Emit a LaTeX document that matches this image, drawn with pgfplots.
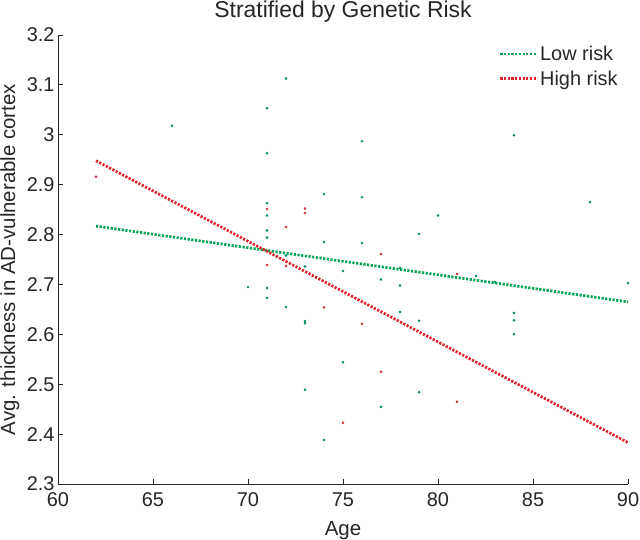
\documentclass[border=0pt]{standalone}
\usepackage{fontspec}
\setmainfont{Liberation Sans}
\usepackage{pgfplots}
\pgfplotsset{compat=1.18}

\definecolor{lowrisk}{RGB}{0,166,81}
\definecolor{highrisk}{RGB}{228,32,40}
\definecolor{lowdot}{RGB}{0,140,100}
\definecolor{highdot}{RGB}{215,40,45}
\definecolor{ink}{RGB}{38,38,38}

\newcommand{\tickfont}{\fontsize{20}{22}\selectfont}
\newcommand{\labelfont}{\fontsize{20.5}{23}\selectfont}
\newcommand{\titlefont}{\fontsize{23}{26}\selectfont}

\begin{document}
\begin{tikzpicture}
\begin{axis}[
  scale only axis, width=570bp, height=449bp,
  xmin=60, xmax=90, ymin=2.3, ymax=3.2,
  axis x line*=bottom, axis y line*=left,
  axis line style={-, ink, line width=0.9bp},
  tick align=inside, major tick length=5bp,
  tick style={ink, line width=0.9bp},
  xtick={60,65,...,90},
  ytick={2.3,2.4,...,3.2},
  /pgf/number format/assume math mode=true,
  yticklabel style={/pgf/number format/fixed, /pgf/number format/precision=1},
  tick label style={font=\tickfont, text=ink},
  xticklabel style={anchor=base, yshift=-23bp},
  label style={font=\labelfont, text=ink},
  xlabel={Age},
  ylabel={Avg. thickness in AD-vulnerable cortex},
  xlabel style={at={(axis description cs:0.5,-0.1136)}, anchor=base},
  ylabel style={at={(axis description cs:-0.0754,0.5)}, anchor=base},
  every axis title shift=0pt,
  title={Stratified by Genetic Risk},
  title style={font=\titlefont, text=ink, at={(axis description cs:0.5,1.0379)}, anchor=base},
  legend style={draw=none, fill=none, font=\tickfont, text=ink,
    at={(rel axis cs:0.768,0.984)}, anchor=north west,
    nodes={inner sep=1.5bp}, row sep=6bp},
  legend cell align=left,
  legend image code/.code={\draw[#1] (0bp,0bp) -- (37bp,0bp);},
]
\coordinate (o) at (rel axis cs:0,0);

% low risk subjects
\addplot[only marks, mark=*, mark size=1.1bp, color=lowdot, forget plot] coordinates {
(66,3.018) (70,2.695)
(71,3.053) (71,2.963) (71,2.863) (71,2.838) (71,2.808) (71,2.794) (71,2.693) (71,2.673)
(72,3.113) (72,2.758) (72,2.655)
(73,2.736) (73,2.626) (73,2.622) (73,2.489)
(74,2.881) (74,2.785) (74,2.388)
(75,2.727) (75,2.544)
(76,2.987) (76,2.875) (76,2.783)
(77,2.710) (77,2.455)
(78,2.733) (78,2.698) (78,2.645)
(79,2.801) (79,2.627) (79,2.484)
(80,2.838) (82,2.717) (83,2.705)
(84,2.999) (84,2.643) (84,2.628) (84,2.600)
(88,2.865) (90,2.703)
};
% high risk subjects
\addplot[only marks, mark=*, mark size=1.1bp, color=highdot, forget plot] coordinates {
(62,2.916) (71,2.851) (71,2.739) (72,2.815) (72,2.737)
(73,2.852) (73,2.843) (74,2.654) (75,2.423) (76,2.621)
(77,2.761) (77,2.525) (81,2.721) (81,2.465)
};

% fitted lines
\addplot[lowrisk, line width=2.7bp, dash pattern=on 2.2bp off 1.5bp] coordinates {(62,2.817) (90,2.665)};
\addlegendentry{Low risk}
\addplot[highrisk, line width=2.7bp, dash pattern=on 2.2bp off 1.5bp] coordinates {(62,2.948) (90,2.383)};
\addlegendentry{High risk}
\end{axis}
\pgfresetboundingbox
\path (o) ++(-58bp,-56bp) rectangle ++(640bp,540bp);
\end{tikzpicture}
\end{document}
